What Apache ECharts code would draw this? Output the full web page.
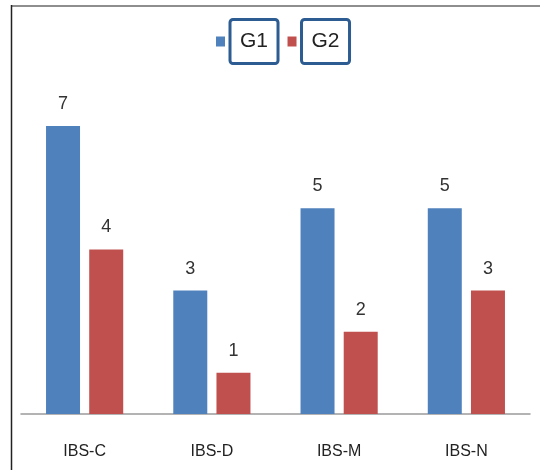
<!DOCTYPE html>
<html>
<head>
<meta charset="utf-8">
<script src="https://cdn.jsdelivr.net/npm/echarts@6/dist/echarts.min.js"></script>
<style>
html,body{margin:0;padding:0;background:#fff;}
#chart{width:540px;height:470px;}
</style>
</head>
<body>
<div id="chart"></div>
<script>
const categories = ['IBS-C', 'IBS-D', 'IBS-M', 'IBS-N'];
const g1Values = [7, 3, 5, 5];
const g2Values = [4, 1, 2, 3];
const seriesNames = ['G1', 'G2'];

const FONT = '"Liberation Sans Narrow", "Liberation Sans", sans-serif';
const chart = echarts.init(document.getElementById('chart'), null, {renderer: 'canvas'});

const labelStyle = {
  show: true,
  position: 'top',
  distance: 13,
  fontFamily: FONT,
  fontSize: 18,
  color: '#333'
};

chart.setOption({
  backgroundColor: '#fff',
  animation: false,
  legend: {
    data: seriesNames,
    left: 216,
    top: 18,
    padding: 0,
    itemWidth: 9,
    itemHeight: 10,
    itemGap: 8,
    icon: 'rect',
    textStyle: {
      fontFamily: FONT,
      fontSize: 21,
      color: '#222',
      borderColor: '#2C5C91',
      borderWidth: 3,
      borderRadius: 3,
      padding: [12, 10, 11, 10]
    }
  },
  grid: {
    left: 21,
    right: 10,
    top: 126,
    bottom: 56,
    containLabel: false
  },
  xAxis: {
    type: 'category',
    data: categories,
    axisLine: {lineStyle: {color: '#9a9a9a', width: 1.5}},
    axisTick: {show: false},
    axisLabel: {
      fontFamily: FONT,
      fontSize: 16,
      color: '#222',
      margin: 30
    }
  },
  yAxis: {
    type: 'value',
    min: 0,
    max: 7,
    show: false,
    splitLine: {show: false}
  },
  series: [
    {
      name: seriesNames[0],
      type: 'bar',
      data: g1Values,
      barWidth: 34,
      barGap: '27%',
      itemStyle: {color: '#4F81BD'},
      label: labelStyle
    },
    {
      name: seriesNames[1],
      type: 'bar',
      data: g2Values,
      barWidth: 34,
      barGap: '27%',
      itemStyle: {color: '#C0504D'},
      label: labelStyle
    }
  ],
  graphic: [
    {type: 'line', shape: {x1: 11, y1: 6, x2: 540, y2: 6}, style: {stroke: '#8e8e8e', lineWidth: 2}},
    {type: 'line', shape: {x1: 11.5, y1: 5, x2: 11.5, y2: 470}, style: {stroke: '#222', lineWidth: 1.5}}
  ]
});
</script>
</body>
</html>
